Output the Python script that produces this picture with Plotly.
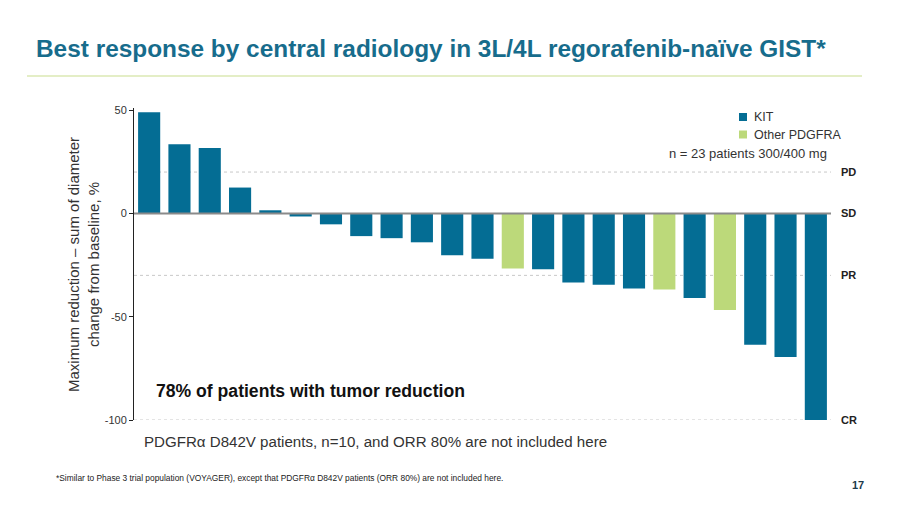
import plotly.graph_objects as go

patients = list(range(1, 24))
values = [49, 33.5, 31.7, 12.5, 1.5, -1.5, -5.3, -11, -12, -14, -20.3, -22, -26.7,
          -27, -33.5, -34.6, -36.4, -36.9, -41, -46.8, -63.6, -69.5, -100]
groups = ["KIT"] * 12 + ["Other PDGFRA"] + ["KIT"] * 4 + ["Other PDGFRA"] + ["KIT"] + ["Other PDGFRA"] + ["KIT"] * 3
colors = {"KIT": "#046d94", "Other PDGFRA": "#bcd97a"}
legend_items = ["KIT", "Other PDGFRA"]
y_ticks = [50, 0, -50, -100]
response_levels = [("PD", 20), ("SD", 0), ("PR", -30), ("CR", -100)]

W, H = 900, 506
x0px, x1px = 134, 831
ytop, ybot = 108, 420

fig = go.Figure()
for g in legend_items:
    xs = [i for i, gg in enumerate(groups) if gg == g]
    fig.add_trace(go.Bar(
        x=xs, y=[values[i] for i in xs], name=g,
        marker=dict(color=colors[g], line=dict(width=0)),
        width=0.73, showlegend=False,
    ))

fig.update_layout(
    template="none",
    width=W, height=H,
    margin=dict(l=0, r=0, t=0, b=0, autoexpand=False),
    paper_bgcolor="white", plot_bgcolor="white",
    barmode="overlay",
    font=dict(family="Liberation Sans, Arial, sans-serif", color="#333333"),
    showlegend=False,
    xaxis=dict(domain=[x0px / W, x1px / W], range=[-0.5, 22.5],
               showticklabels=False, showgrid=False, zeroline=False,
               showline=False, ticks="", automargin=False),
    yaxis=dict(domain=[1 - ybot / H, 1 - ytop / H], range=[-100, 51],
               tickvals=y_ticks, ticktext=[str(v) for v in y_ticks],
               tickfont=dict(size=11, color="#333333"),
               showgrid=False, zeroline=False, showline=True,
               linecolor="#222222", linewidth=1, ticks="outside",
               ticklen=4, tickcolor="#222222", automargin=False),
)

# response-level reference lines and labels
for lab, v in response_levels:
    if v == 0:
        fig.add_shape(type="line", xref="x domain", yref="y", x0=0, x1=1, y0=v, y1=v,
                      line=dict(color="#8a8a8a", width=2), layer="above")
    else:
        fig.add_shape(type="line", xref="x domain", yref="y", x0=0, x1=1, y0=v, y1=v,
                      line=dict(color="#c8c8c8", width=1, dash="dot"), layer="below")
    fig.add_annotation(x=(x1px + 8) / W, xref="paper", y=v, yref="y", text=f"<b>{lab}</b>",
                       showarrow=False, xanchor="left", yanchor="middle",
                       font=dict(size=11, color="#222222"))

# manual legend
for i, g in enumerate(legend_items):
    yc = 117 + i * 17.5
    fig.add_shape(type="rect", xref="paper", yref="paper",
                  x0=739 / W, x1=747 / W, y0=1 - (yc - 4) / H, y1=1 - (yc + 4) / H,
                  fillcolor=colors[g], line=dict(width=0))
    fig.add_annotation(x=752 / W, y=1 - yc / H, xref="paper", yref="paper", text=g,
                       showarrow=False, xanchor="left", yanchor="middle",
                       font=dict(size=12.5, color="#333333"))

# y-axis title
fig.add_annotation(x=83 / W, y=1 - 265 / H, xref="paper", yref="paper",
                   text="Maximum reduction – sum of diameter<br>change from baseline, %",
                   textangle=-90, showarrow=False, xanchor="center", yanchor="middle",
                   font=dict(size=15, color="#333333"))

# n note
fig.add_annotation(x=829 / W, y=1 - 153 / H, xref="paper", yref="paper",
                   text="n = 23 patients 300/400 mg", showarrow=False, xanchor="right",
                   yanchor="middle", font=dict(size=13, color="#333333"))

# highlight text
fig.add_annotation(x=154 / W, y=1 - 391 / H, xref="paper", yref="paper",
                   text="<b>78% of patients with tumor reduction</b>", showarrow=False,
                   xanchor="left", yanchor="middle", font=dict(size=17.6, color="#111111"))

fig.add_annotation(x=142 / W, y=1 - 441 / H, xref="paper", yref="paper",
                   text="PDGFRα D842V patients, n=10, and ORR 80% are not included here",
                   showarrow=False, xanchor="left", yanchor="middle",
                   font=dict(size=15.1, color="#333333"))

# title
fig.add_annotation(x=34 / W, y=1 - 48 / H, xref="paper", yref="paper",
                   text="<b>Best response by central radiology in 3L/4L regorafenib-naïve GIST*</b>",
                   showarrow=False, xanchor="left", yanchor="middle",
                   font=dict(size=24.4, color="#176c8c"))
fig.add_shape(type="line", xref="paper", yref="paper", x0=27 / W, x1=862 / W,
              y0=1 - 76 / H, y1=1 - 76 / H, line=dict(color="#dbe9b3", width=1.5))

# footnote
fig.add_annotation(x=54 / W, y=1 - 478 / H, xref="paper", yref="paper",
                   text="*Similar to Phase 3 trial population (VOYAGER), except that PDGFRα D842V patients (ORR 80%) are not included here.",
                   showarrow=False, xanchor="left", yanchor="middle",
                   font=dict(size=8.4, color="#222222"))
fig.add_annotation(x=866 / W, y=1 - 485 / H, xref="paper", yref="paper",
                   text="<b>17</b>", showarrow=False, xanchor="right", yanchor="middle",
                   font=dict(size=11, color="#1d3a4a"))

fig.write_html("out.html")
